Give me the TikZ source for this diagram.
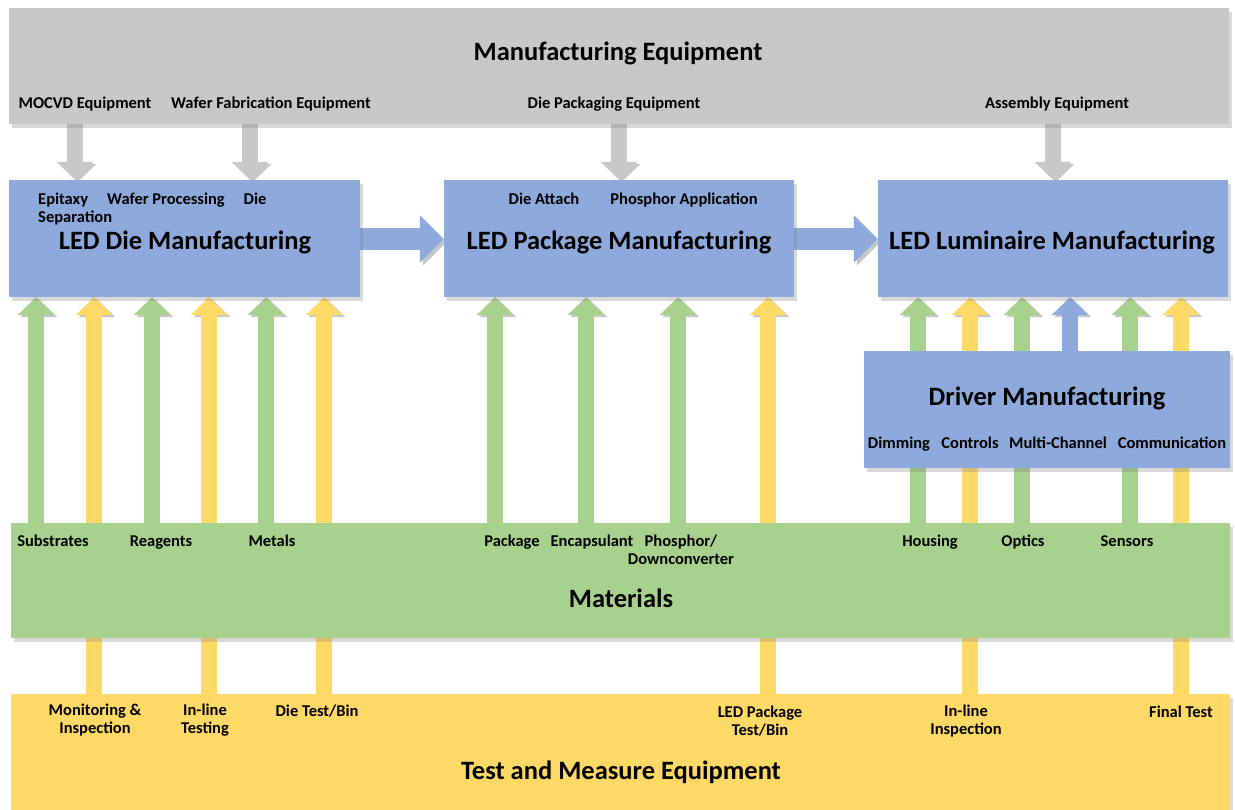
\documentclass[tikz,border=0pt]{standalone}
\usepackage{fontspec}
\setmainfont{Carlito}
\usetikzlibrary{arrows.meta,fit,shadows}

\definecolor{equipgray}{RGB}{200,200,200}
\definecolor{mfgblue}{RGB}{142,169,219}
\definecolor{matgreen}{RGB}{169,209,142}
\definecolor{testyellow}{RGB}{255,217,102}

\pgfdeclarelayer{bg}
\pgfsetlayers{bg,main}

\tikzset{
	box/.style={fill=#1, inner sep=0pt, drop shadow={shadow xshift=3pt, shadow yshift=-4pt, opacity=0.3}},
	title/.style={font=\fontsize{26.5}{30}\selectfont\bfseries, anchor=base, inner sep=0pt, yshift=-1pt},
	tag/.style={font=\fontsize{16.5}{18}\selectfont\bfseries, anchor=base, inner sep=0pt, align=center, yshift=-1.5pt},
	fat/.style={draw=#1, line width=16pt, -{Triangle[width=36pt,length=18pt]},
		preaction={draw=black!22, transform canvas={shift={(3pt,-2pt)}}}},
	wide/.style={draw=#1, line width=22pt, -{Triangle[width=46pt,length=24pt]},
		preaction={draw=black!22, transform canvas={shift={(3pt,-3pt)}}}}
}

\begin{document}
\begin{tikzpicture}[x=1pt,y=-1pt]
	
	\useasboundingbox (0,0) rectangle (1235,810);
	
	% boxes
	\node[box=equipgray, fit={(9,8) (1229,124)}] (equip) {};
	\node[box=mfgblue, fit={(9,180) (360,297)}] (die) {};
	\node[box=mfgblue, fit={(444,180) (794,297)}] (pkg) {};
	\node[box=mfgblue, fit={(878,180) (1228,297)}] (lum) {};
	\node[box=mfgblue, fit={(864,351) (1230,468)}] (drv) {};
	\node[box=matgreen, fit={(11,523) (1230,638)}] (mat) {};
	\node[box=testyellow, fit={(11,694) (1230,816)}] (test) {};
	
	% titles (base of the text)
	\node[title] (equipT) at (618,60) {Manufacturing Equipment};
	\node[title] (dieT) at (185,249) {LED Die Manufacturing};
	\node[title] (pkgT) at (619,249) {LED Package Manufacturing};
	\node[title] (lumT) at (1052,249) {LED Luminaire Manufacturing};
	\node[title] (drvT) at (1047,405) {Driver Manufacturing};
	\node[title] (matT) at (621,606) {Materials};
	\node[title] (testT) at (621,778) {Test and Measure Equipment};
	
	% equipment
	\node[tag] (mocvd) at (85,107) {MOCVD Equipment};
	\node[tag] (wafer) at (271,107) {Wafer Fabrication Equipment};
	\node[tag] (diepkg) at (614,107) {Die Packaging Equipment};
	\node[tag] (assy) at (1057,107) {Assembly Equipment};
	
	% steps (two-line tags sit on their last line)
	\node[tag, anchor=base west, align=left] (epi) at (38,221) {Epitaxy\\Separation};
	\node[tag] (wproc) at (166,203) {Wafer Processing};
	\node[tag] (dieS) at (255,203) {Die};
	\node[tag] (attach) at (544,203) {Die Attach};
	\node[tag] (phosA) at (684,203) {Phosphor Application};
	\node[tag] (dim) at (899,447) {Dimming};
	\node[tag] (ctrl) at (970,447) {Controls};
	\node[tag] (multi) at (1058,447) {Multi-Channel};
	\node[tag] (comm) at (1172,447) {Communication};
	
	% materials
	\node[tag] (subs) at (53,545) {Substrates};
	\node[tag] (reag) at (161,545) {Reagents};
	\node[tag] (metal) at (272,545) {Metals};
	\node[tag] (pack) at (512,545) {Package};
	\node[tag] (encap) at (592,545) {Encapsulant};
	\node[tag] (phos) at (681,563) {Phosphor/\\Downconverter};
	\node[tag] (house) at (930,545) {Housing};
	\node[tag] (optic) at (1023,545) {Optics};
	\node[tag] (sens) at (1127,545) {Sensors};
	
	% tests
	\node[tag] (moni) at (95,732) {Monitoring \&\\Inspection};
	\node[tag] (inlT) at (205,732) {In-line\\Testing};
	\node[tag] (dtest) at (317,715) {Die Test/Bin};
	\node[tag] (ptest) at (760,734) {LED Package\\Test/Bin};
	\node[tag] (inlI) at (966,733) {In-line\\Inspection};
	\node[tag] (final) at (1181,716) {Final Test};
	
	\begin{pgfonlayer}{bg}
		\foreach \x/\t in {75/die,250/die,619/pkg,1053/lum}
			\draw[fat=equipgray] (\x,0 |- equip.south) -- (\x,0 |- \t.north);
		
		\draw[wide=mfgblue] (die.east |- 0,239) -- (pkg.west |- 0,239);
		\draw[wide=mfgblue] (pkg.east |- 0,239) -- (lum.west |- 0,239);
		
		\foreach \x in {36,152,266}
			\draw[fat=matgreen] (\x,0 |- mat.north) -- (\x,0 |- die.south);
		\foreach \x in {495,586,678}
			\draw[fat=matgreen] (\x,0 |- mat.north) -- (\x,0 |- pkg.south);
		\foreach \x in {918,1022,1130}
			\draw[fat=matgreen] (\x,0 |- mat.north) -- (\x,0 |- lum.south);
		
		\foreach \x in {94,209,324}
			\draw[fat=testyellow] (\x,0 |- test.north) -- (\x,0 |- die.south);
		\draw[fat=testyellow] (768,0 |- test.north) -- (768,0 |- pkg.south);
		\foreach \x in {970,1181}
			\draw[fat=testyellow] (\x,0 |- test.north) -- (\x,0 |- lum.south);
		
		\draw[fat=mfgblue] (1070,0 |- drv.north) -- (1070,0 |- lum.south);
	\end{pgfonlayer}
	
\end{tikzpicture}
\end{document}
